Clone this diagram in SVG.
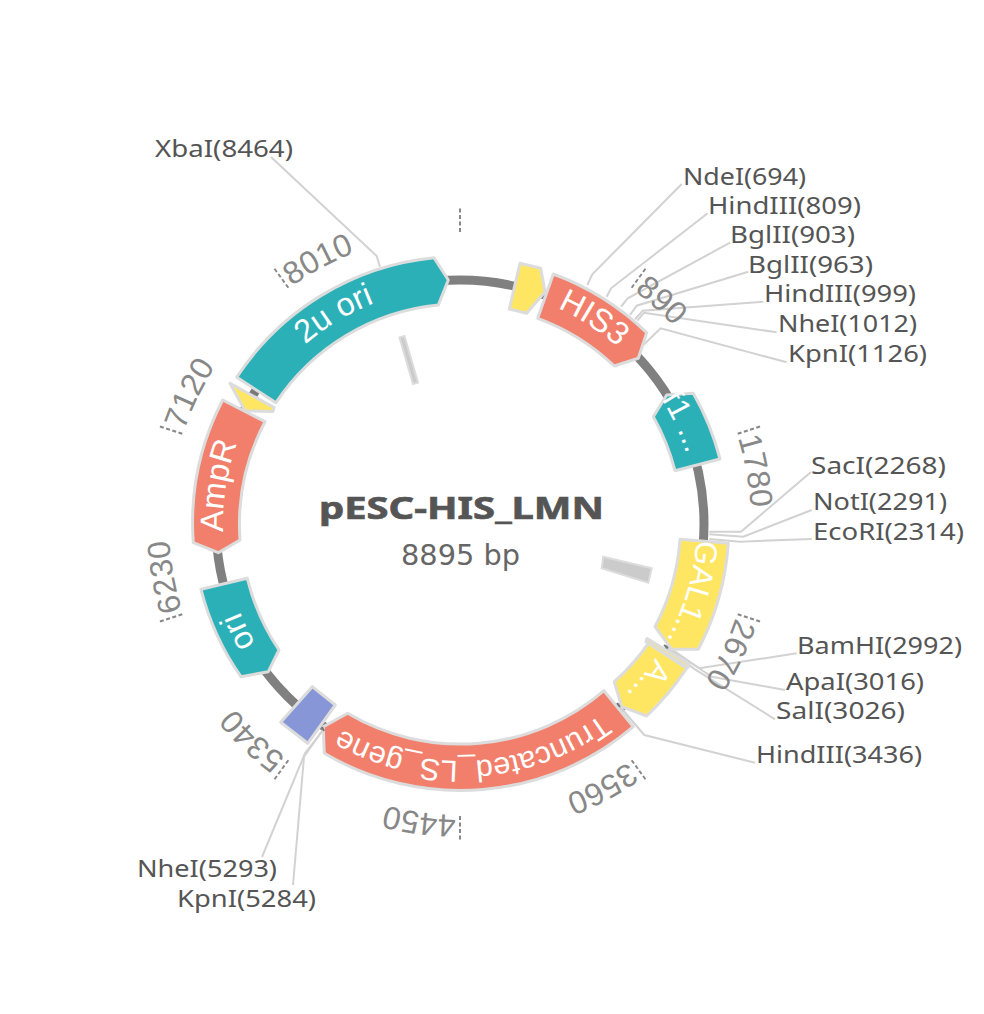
<svg xmlns="http://www.w3.org/2000/svg" width="984" height="1014" viewBox="0 0 984 1014">
<style>
.bb{fill:none;stroke:#808080;stroke-width:9}
.f{stroke:#dcdcdc;stroke-width:3;stroke-linejoin:round}
.t{fill:#2bb0b8}.s{fill:#f17f6c}.y{fill:#ffe662}.b{fill:#8796d6}
.fl{font-family:"Liberation Sans",Arial,sans-serif;font-size:31px;fill:#fff;text-anchor:middle}
.big{font-size:32.5px}
.c{fill:none;stroke:#d2d2d2;stroke-width:2}
.l{font-family:"Noto Sans","DejaVu Sans",sans-serif;font-size:24px;fill:#555}
.tk{stroke:#888;stroke-width:2;stroke-dasharray:4 2.5}
.tt{font-family:"Liberation Sans",Arial,sans-serif;font-size:32px;fill:#888}
.m{fill:#cbcbcb;stroke:#dcdcdc;stroke-width:2}
.d{stroke:#777;stroke-width:2}
</style>
<defs>
<path id="arcF" d="M254.8 405.5A237 237 0 0 1 665.2 405.5"/>
<path id="arcT" d="M460 233A291 291 0 0 1 605.5 272"/>
</defs>
<g id="backbone"><circle class="bb" cx="460" cy="524" r="244"/></g>
<g id="marks">
<polygon class="m" points="399.5,337.5 404.5,336 418,382.5 413,384"/>
<polygon class="m" points="603.3,556.7 651.7,568.3 648.3,582.7 601.7,568.3"/>
</g>
<g id="connectors">
<polyline class="c" points="380,266.7 376.7,256 271,157"/>
<polyline class="c" points="587.3,285 592.3,274.3 681.7,184"/>
<polyline class="c" points="606.7,296.7 611,288.3 707.7,213.3"/>
<polyline class="c" points="621,306.7 627.7,298.3 730,242.7"/>
<polyline class="c" points="630,315 636.7,305.7 748.3,271.7"/>
<polyline class="c" points="635,319.3 642.7,310.7 763.3,301.7"/>
<polyline class="c" points="637.3,320.7 644,312.7 776.7,332.3"/>
<polyline class="c" points="643.3,345 660.7,328.3 786.7,362.3"/>
<polyline class="c" points="709.3,531.7 741,531.7 811,472"/>
<polyline class="c" points="709.3,534.3 743.3,536.7 811.7,510"/>
<polyline class="c" points="709.3,539 740,541.7 811.7,539"/>
<polyline class="c" points="667,647 699.3,668.3 796.7,653.3"/>
<polyline class="c" points="670,648 703,671 711.7,676.7 785,690"/>
<polyline class="c" points="668,649 695,669.3 775,719.3"/>
<polyline class="c" points="617.7,704 644.3,735 755,762.7"/>
<polyline class="c" points="323.3,730 305,753.3 262,857"/>
<polyline class="c" points="322,731 304,756.7 293,885"/>
</g>
<g id="f-2uori">
<path class="f t" d="M236.7 377.3A267.5 267.5 0 0 1 434 257.7L448.3 280L438.3 305A220.5 220.5 0 0 0 276 402.7Z"/>
<g transform="rotate(329 460 524)"><text class="fl big"><textPath href="#arcF" startOffset="50%">2u ori</textPath></text></g>
</g>
<g id="f-small1">
<path class="f y" d="M520 263.3L540.7 268.3L545 291.7L526.7 313.3L509.3 309Z"/>
</g>
<g id="f-HIS3">
<path class="f s" d="M553.3 274A267.5 267.5 0 0 1 646.7 332.7L638.3 358.3L614.3 366A220.5 220.5 0 0 0 537.7 318.3Z"/>
<g transform="rotate(33 460 524)"><text class="fl big"><textPath href="#arcF" startOffset="50%">HIS3</textPath></text></g>
</g>
<g id="f-f1">
<path class="f t" d="M666.7 395L693.3 393.3A267.5 267.5 0 0 1 720 459L675 470.7A220.5 220.5 0 0 0 653.3 416.7Z"/>
<g transform="rotate(65.5 460 524)"><text class="fl"><textPath href="#arcF" startOffset="50%">f1 ...</textPath></text></g>
</g>
<g id="f-GAL1">
<path class="f y" d="M680 539.3L728.3 543.3A268 268 0 0 1 698.3 649.3L671.7 649.3L655 626.7A220.5 220.5 0 0 0 680 539.3Z"/>
<g transform="rotate(106.6 460 524)"><text class="fl"><textPath href="#arcF" startOffset="50%">GAL1...</textPath></text></g>
</g>
<g id="f-strip">
<path class="f y" stroke-width="1.5" d="M647 638.5L689 664L688 667.5L646 642Z"/>
</g>
<g id="f-A">
<path class="f y" d="M648.3 643.3L686.7 668.3A268 268 0 0 1 646.7 716L621.7 706.7L614.3 681.7A220.5 220.5 0 0 0 648.3 643.3Z"/>
<g transform="rotate(130 460 524)"><text class="fl"><textPath href="#arcF" startOffset="50%">A...</textPath></text></g>
</g>
<g id="f-Truncated_LS_gene">
<path class="f s" d="M604 690.7L633.3 726.7A267 267 0 0 1 324.3 753.3L323.3 726.7L347.7 713.3A220.5 220.5 0 0 0 604 690.7Z"/>
<g transform="rotate(176.7 460 524)"><text class="fl" style="font-size:30.5px"><textPath href="#arcF" startOffset="50%">Truncated_LS_gene</textPath></text></g>
</g>
<g id="f-blue">
<path class="f b" d="M312.3 686.7L335.3 705L307.7 743.3L280.7 722.3Z"/>
</g>
<g id="f-ori">
<path class="f t" d="M201 589.3L247.3 578.3A220.5 220.5 0 0 0 279 650L268.3 671.7L241 676.7A267 267 0 0 1 201 589.3Z"/>
<g transform="rotate(244 460 524)"><text class="fl big"><textPath href="#arcF" startOffset="50%">ori</textPath></text></g>
</g>
<g id="f-AmpR">
<path class="f s" d="M222.7 400L265 421.7A220.5 220.5 0 0 0 240 540L218.3 552.7L193.3 542.7A267.5 267.5 0 0 1 222.7 400Z"/>
<g transform="rotate(279 460 524)"><text class="fl big"><textPath href="#arcF" startOffset="50%">AmpR</textPath></text></g>
</g>
<g id="f-small2">
<path class="f y" d="M230 383.3L274 407.5L273 411.5L245 410.7Z"/>
</g>
<g id="small-marks">
<line class="d" x1="251" y1="391" x2="258" y2="394.5"/>
<line class="d" x1="664" y1="645" x2="668" y2="648"/>
<line class="d" x1="617" y1="703" x2="620" y2="707"/>
<line class="d" x1="322" y1="727" x2="324" y2="731"/>
</g>
<g id="ticks">
<line class="tk" x1="460" y1="232" x2="460" y2="208"/>
<g transform="rotate(36 460 524)"><line class="tk" x1="460" y1="232" x2="460" y2="208"/><text class="tt"><textPath href="#arcT" startOffset="4">890</textPath></text></g>
<g transform="rotate(72 460 524)"><line class="tk" x1="460" y1="232" x2="460" y2="208"/><text class="tt"><textPath href="#arcT" startOffset="4">1780</textPath></text></g>
<g transform="rotate(108 460 524)"><line class="tk" x1="460" y1="232" x2="460" y2="208"/><text class="tt"><textPath href="#arcT" startOffset="4">2670</textPath></text></g>
<g transform="rotate(144 460 524)"><line class="tk" x1="460" y1="232" x2="460" y2="208"/><text class="tt"><textPath href="#arcT" startOffset="4">3560</textPath></text></g>
<g transform="rotate(180 460 524)"><line class="tk" x1="460" y1="232" x2="460" y2="208"/><text class="tt"><textPath href="#arcT" startOffset="4">4450</textPath></text></g>
<g transform="rotate(216 460 524)"><line class="tk" x1="460" y1="232" x2="460" y2="208"/><text class="tt"><textPath href="#arcT" startOffset="4">5340</textPath></text></g>
<g transform="rotate(252 460 524)"><line class="tk" x1="460" y1="232" x2="460" y2="208"/><text class="tt"><textPath href="#arcT" startOffset="4">6230</textPath></text></g>
<g transform="rotate(288 460 524)"><line class="tk" x1="460" y1="232" x2="460" y2="208"/><text class="tt"><textPath href="#arcT" startOffset="4">7120</textPath></text></g>
<g transform="rotate(324 460 524)"><line class="tk" x1="460" y1="232" x2="460" y2="208"/><text class="tt"><textPath href="#arcT" startOffset="4">8010</textPath></text></g>
</g>
<g id="labels">
<text class="l" lengthAdjust="spacingAndGlyphs" x="155" y="157" textLength="138">XbaI(8464)</text>
<text class="l" lengthAdjust="spacingAndGlyphs" x="683" y="185" textLength="123">NdeI(694)</text>
<text class="l" lengthAdjust="spacingAndGlyphs" x="708" y="213.5" textLength="153">HindIII(809)</text>
<text class="l" lengthAdjust="spacingAndGlyphs" x="730" y="243" textLength="125">BglII(903)</text>
<text class="l" lengthAdjust="spacingAndGlyphs" x="748" y="273" textLength="125">BglII(963)</text>
<text class="l" lengthAdjust="spacingAndGlyphs" x="764" y="302" textLength="152">HindIII(999)</text>
<text class="l" lengthAdjust="spacingAndGlyphs" x="778" y="332" textLength="139">NheI(1012)</text>
<text class="l" lengthAdjust="spacingAndGlyphs" x="788" y="362" textLength="139">KpnI(1126)</text>
<text class="l" lengthAdjust="spacingAndGlyphs" x="811" y="474" textLength="135">SacI(2268)</text>
<text class="l" lengthAdjust="spacingAndGlyphs" x="813" y="510" textLength="134">NotI(2291)</text>
<text class="l" lengthAdjust="spacingAndGlyphs" x="813" y="540" textLength="151">EcoRI(2314)</text>
<text class="l" lengthAdjust="spacingAndGlyphs" x="797" y="654" textLength="165">BamHI(2992)</text>
<text class="l" lengthAdjust="spacingAndGlyphs" x="786" y="690" textLength="138">ApaI(3016)</text>
<text class="l" lengthAdjust="spacingAndGlyphs" x="776" y="719" textLength="129">SalI(3026)</text>
<text class="l" lengthAdjust="spacingAndGlyphs" x="756" y="763" textLength="166">HindIII(3436)</text>
<text class="l" lengthAdjust="spacingAndGlyphs" x="137" y="877" textLength="140">NheI(5293)</text>
<text class="l" lengthAdjust="spacingAndGlyphs" x="177" y="907" textLength="139">KpnI(5284)</text>
</g>
<g id="title">
<text x="319" y="519" font-family="'Noto Sans','DejaVu Sans',sans-serif" font-weight="bold" font-size="31" fill="#555" stroke="#555" stroke-width="0.7" textLength="285" lengthAdjust="spacingAndGlyphs">pESC-HIS_LMN</text>
<text x="401" y="565" font-family="'DejaVu Sans',Verdana,sans-serif" font-size="28.8" fill="#666">8895 bp</text>
</g>
</svg>
